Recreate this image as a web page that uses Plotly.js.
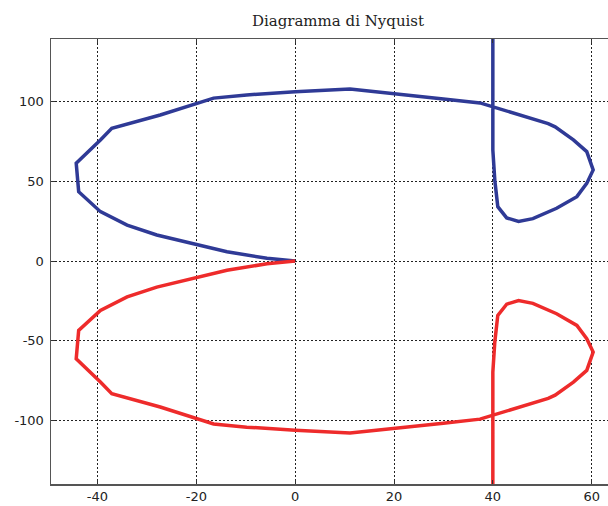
<!DOCTYPE html>
<html>
<head>
<meta charset="utf-8">
<script src="https://cdn.plot.ly/plotly-3.0.1.min.js"></script>
<style>html,body{margin:0;padding:0;background:#fff;} #chart{width:608px;height:506px;}</style>
</head>
<body>
<div id="chart"></div>
<script>
// Positive-frequency branch (blue)
const reBlue = [40, 40, 40.4, 41.0, 42.8, 45.2, 48.1, 52.9, 57.0, 59.0, 60.3, 59.0, 56.3, 52.6, 51.2, 39.9, 37.4, 30.0, 20.2, 11.1, 0.0, -9.8, -16.5, -19.6, -27.3, -37.1, -39.4, -44.3, -43.8, -39.4, -34.0, -28.0, -19.9, -13.8, -5.7, 0.0];
const imBlue = [300, 69.5, 50.5, 34.0, 27.0, 24.8, 26.5, 33.0, 40.3, 48.6, 57.0, 68.5, 75.8, 84.0, 86.0, 96.6, 99.0, 101.5, 105.0, 107.7, 106.0, 104.0, 102.0, 99.1, 91.4, 83.1, 75.8, 61.2, 43.4, 30.9, 22.5, 16.3, 10.6, 5.8, 1.7, 0.0];
// Negative-frequency branch (red)
const reRed = [40, 40, 40.4, 41.0, 42.8, 45.2, 48.1, 52.9, 57.0, 59.0, 60.3, 59.0, 56.3, 52.6, 51.2, 39.9, 37.4, 30.0, 20.2, 11.1, 0.0, -9.8, -16.5, -19.6, -27.3, -37.1, -39.4, -44.3, -43.8, -39.4, -34.0, -28.0, -19.9, -13.8, -5.7, 0.0];
const imRed = [-300, -69.5, -50.5, -34.0, -27.0, -24.8, -26.5, -33.0, -40.3, -48.6, -57.0, -68.5, -75.8, -84.0, -86.0, -96.6, -99.0, -101.5, -105.0, -107.7, -106.0, -104.0, -102.0, -99.1, -91.4, -83.1, -75.8, -61.2, -43.4, -30.9, -22.5, -16.3, -10.6, -5.8, -1.7, 0.0];

const xTickVals = [-40, -20, 0, 20, 40, 60];
const xTickText = ['-40', '-20', '0', '20', '40', '60'];
const yTickVals = [-100, -50, 0, 50, 100];
const yTickText = ['-100', '-50', '0', '50', '100'];
const titleText = 'Diagramma di Nyquist';

const traces = [
  {x: reBlue, y: imBlue, mode: 'lines', line: {color: '#2f3a96', width: 3.5}, hoverinfo: 'skip'},
  {x: reRed, y: imRed, mode: 'lines', line: {color: '#ee2b2b', width: 3.5}, hoverinfo: 'skip'}
];

const axisCommon = {
  showgrid: true, gridcolor: '#222', gridwidth: 1, griddash: '2px,2px',
  zeroline: false, showline: true, linecolor: '#555', linewidth: 1.5,
  ticks: 'inside', ticklen: 4, tickcolor: '#333', tickwidth: 1,
  tickmode: 'array',
  tickfont: {family: 'DejaVu Sans', size: 13, color: '#222'}
};

const layout = {
  width: 608, height: 506,
  margin: {l: 51, r: 0, t: 39, b: 22},
  paper_bgcolor: '#fff', plot_bgcolor: '#fff',
  showlegend: false,
  title: {text: titleText, font: {family: 'DejaVu Serif', size: 15, color: '#222'},
          xref: 'container', x: 338/608, xanchor: 'center', yref: 'container', y: 1 - 21/506, yanchor: 'middle'},
  xaxis: Object.assign({}, axisCommon, {range: [-49.4, 63.3], tickvals: xTickVals, ticktext: xTickText, mirror: 'ticks', ticklabelstandoff: 0}),
  yaxis: Object.assign({}, axisCommon, {range: [-139.6, 139.0], tickvals: yTickVals, ticktext: yTickText, mirror: false, ticklabelstandoff: 3})
};

Plotly.newPlot('chart', traces, layout, {displayModeBar: false, staticPlot: true});
</script>
</body>
</html>
